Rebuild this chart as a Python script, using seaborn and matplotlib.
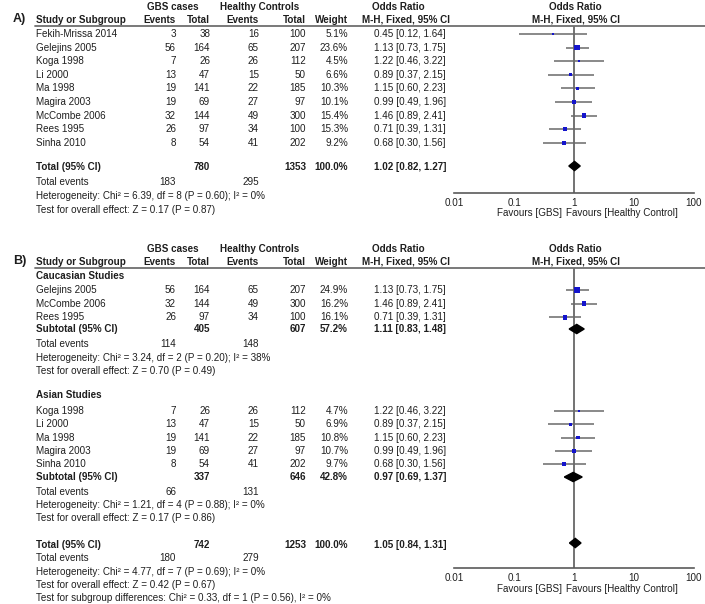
import numpy as np
import pandas as pd
import matplotlib
matplotlib.use('Agg')
import matplotlib.pyplot as plt
from matplotlib.lines import Line2D
import seaborn as sns

# ---- panel A data (all studies) ----
studies = ['Fekih-Mrissa 2014', 'Gelejins 2005', 'Koga 1998', 'Li 2000', 'Ma 1998',
           'Magira 2003', 'McCombe 2006', 'Rees 1995', 'Sinha 2010']
gbs_events = [3, 56, 7, 13, 19, 19, 32, 26, 8]
gbs_total = [38, 164, 26, 47, 141, 69, 144, 97, 54]
hc_events = [16, 65, 26, 15, 22, 27, 49, 34, 41]
hc_total = [100, 207, 112, 50, 185, 97, 300, 100, 202]
odds = [0.45, 1.13, 1.22, 0.89, 1.15, 0.99, 1.46, 0.71, 0.68]
ci_lo = [0.12, 0.73, 0.46, 0.37, 0.60, 0.49, 0.89, 0.39, 0.30]
ci_hi = [1.64, 1.75, 3.22, 2.15, 2.23, 1.96, 2.41, 1.31, 1.56]
weight_a = [5.1, 23.6, 4.5, 6.6, 10.3, 10.1, 15.4, 15.3, 9.2]

total_a = [780, 1353, 100.0]
total_or_a = [1.02, 0.82, 1.27]
events_a = [183, 295]
het_a = 'Heterogeneity: Chi\u00b2 = 6.39, df = 8 (P = 0.60); I\u00b2 = 0%'
z_a = 'Test for overall effect: Z = 0.17 (P = 0.87)'

# ---- panel B data (subgroups) ----
cau_studies = ['Gelejins 2005', 'McCombe 2006', 'Rees 1995']
cau_weight = [24.9, 16.2, 16.1]
cau_sub = [405, 607, 57.2]
cau_or = [1.11, 0.83, 1.48]
cau_events = [114, 148]
cau_het = 'Heterogeneity: Chi\u00b2 = 3.24, df = 2 (P = 0.20); I\u00b2 = 38%'
cau_z = 'Test for overall effect: Z = 0.70 (P = 0.49)'

asn_studies = ['Koga 1998', 'Li 2000', 'Ma 1998', 'Magira 2003', 'Sinha 2010']
asn_weight = [4.7, 6.9, 10.8, 10.7, 9.7]
asn_sub = [337, 646, 42.8]
asn_or = [0.97, 0.69, 1.37]
asn_events = [66, 131]
asn_het = 'Heterogeneity: Chi\u00b2 = 1.21, df = 4 (P = 0.88); I\u00b2 = 0%'
asn_z = 'Test for overall effect: Z = 0.17 (P = 0.86)'

total_b = [742, 1253, 100.0]
total_or_b = [1.05, 0.84, 1.31]
events_b = [180, 279]
het_b = 'Heterogeneity: Chi\u00b2 = 4.77, df = 7 (P = 0.69); I\u00b2 = 0%'
z_b = 'Test for overall effect: Z = 0.42 (P = 0.67)'
sub_b = 'Test for subgroup differences: Chi\u00b2 = 0.33, df = 1 (P = 0.56), I\u00b2 = 0%'

sns.set_style('white')
plt.rcParams['font.family'] = ['Liberation Sans', 'DejaVu Sans']

W, H = 705, 604
fig = plt.figure(figsize=(W / 100, H / 100), dpi=100)
TXT = '#1e1e1e'
FS = 7.1


def put(x, y, s, ha='left', bold=False, size=FS, color=TXT):
    fig.text(x / W, 1 - y / H, s, ha=ha, va='center', fontsize=size,
             fontweight='bold' if bold else 'normal', color=color)


def hline(x0, x1, y, color='#6e6e6e', lw=1.3):
    fig.add_artist(Line2D([x0 / W, x1 / W], [1 - y / H, 1 - y / H],
                          color=color, lw=lw, transform=fig.transFigure))


# column positions (px)
C_NAME, C_GE, C_GT, C_HE, C_HT, C_W, C_OR = 36, 176, 210, 259, 306, 348, 446


def header(y, label):
    put(173, y - 13, 'GBS cases', ha='center', bold=True)
    put(260, y - 13, 'Healthy Controls', ha='center', bold=True)
    put(398, y - 13, 'Odds Ratio', ha='center', bold=True)
    put(575, y - 13, 'Odds Ratio', ha='center', bold=True)
    put(13, y - 1, label, bold=True, size=9)
    put(C_NAME, y, 'Study or Subgroup', bold=True)
    put(C_GE, y, 'Events', ha='right', bold=True)
    put(C_GT, y, 'Total', ha='right', bold=True)
    put(C_HE, y, 'Events', ha='right', bold=True)
    put(C_HT, y, 'Total', ha='right', bold=True)
    put(C_W, y, 'Weight', ha='right', bold=True)
    put(406, y, 'M-H, Fixed, 95% CI', ha='center', bold=True)
    put(576, y, 'M-H, Fixed, 95% CI', ha='center', bold=True)
    hline(35, 705, y + 6)


def study_row(y, name, w):
    i = studies.index(name)
    put(C_NAME, y, name)
    put(C_GE, y, str(gbs_events[i]), ha='right')
    put(C_GT, y, str(gbs_total[i]), ha='right')
    put(C_HE, y, str(hc_events[i]), ha='right')
    put(C_HT, y, str(hc_total[i]), ha='right')
    put(C_W, y, f'{w:.1f}%', ha='right')
    put(C_OR, y, f'{odds[i]:.2f} [{ci_lo[i]:.2f}, {ci_hi[i]:.2f}]', ha='right')


def total_row(y, label, tot, orv):
    put(C_NAME, y, label, bold=True)
    put(C_GT, y, str(tot[0]), ha='right', bold=True)
    put(C_HT, y, str(tot[1]), ha='right', bold=True)
    put(C_W, y, f'{tot[2]:.1f}%', ha='right', bold=True)
    put(C_OR, y, f'{orv[0]:.2f} [{orv[1]:.2f}, {orv[2]:.2f}]', ha='right', bold=True)


def events_row(y, ev):
    put(C_NAME, y, 'Total events')
    put(C_GE, y, str(ev[0]), ha='right')
    put(C_HE, y, str(ev[1]), ha='right')


def forest_axes(top, bottom):
    ax = fig.add_axes([454 / W, 1 - bottom / H, 240 / W, (bottom - top) / H])
    ax.set_xscale('log')
    ax.set_xlim(0.01, 100)
    ax.set_ylim(bottom, top)
    ax.patch.set_alpha(0)
    for s in ['left', 'right', 'top']:
        ax.spines[s].set_visible(False)
    ax.spines['bottom'].set_color('#5a5a5a')
    ax.spines['bottom'].set_linewidth(1.2)
    ax.set_yticks([])
    ax.set_xticks([0.01, 0.1, 1, 10, 100])
    ax.set_xticklabels(['0.01', '0.1', '1', '10', '100'])
    ax.minorticks_off()
    ax.tick_params(axis='x', direction='inout', length=5.5, width=1.1, color='#5a5a5a',
                   labelsize=FS, labelcolor=TXT, pad=0.6)
    ax.axvline(1, color='#5a5a5a', lw=1.2, zorder=1)
    return ax


def draw_studies(ax, ys, names, ws):
    idx = [studies.index(n) for n in names]
    df = pd.DataFrame({'y': ys, 'or': [odds[i] for i in idx],
                       'lo': [ci_lo[i] for i in idx], 'hi': [ci_hi[i] for i in idx],
                       'w': ws})
    ax.hlines(df['y'], df['lo'], df['hi'], color='#6a6a6a', lw=1.1, zorder=2)
    side = 1.15 * np.sqrt(df['w']) * 0.72
    sns.scatterplot(data=df, x='or', y='y', marker='s', s=side ** 2, color='#1414cc',
                    linewidth=0, legend=False, ax=ax, zorder=3)
    ax.set_xlabel('')
    ax.set_ylabel('')


def diamond(ax, y, orv, h=4.6):
    ax.fill([orv[1], orv[0], orv[2], orv[0]], [y, y - h, y, y + h], color='black', zorder=4)


# ================= Panel A =================
header(20, 'A)')
ys_a = [34 + 13.6 * i for i in range(len(studies))]
for y, n, w in zip(ys_a, studies, weight_a):
    study_row(y, n, w)
total_row(167, 'Total (95% CI)', total_a, total_or_a)
events_row(182, events_a)
put(C_NAME, 196, het_a)
put(C_NAME, 210, z_a)

ax_a = forest_axes(26, 193)
draw_studies(ax_a, ys_a, studies, weight_a)
diamond(ax_a, 166, total_or_a)
put(562, 213.5, 'Favours [GBS]', ha='right')
put(566, 213.5, 'Favours [Healthy Control]')

# ================= Panel B =================
header(262, 'B)')
put(C_NAME, 276, 'Caucasian Studies', bold=True)
ys_c = [290 + 13.6 * i for i in range(len(cau_studies))]
for y, n, w in zip(ys_c, cau_studies, cau_weight):
    study_row(y, n, w)
total_row(329, 'Subtotal (95% CI)', cau_sub, cau_or)
events_row(344, cau_events)
put(C_NAME, 358, cau_het)
put(C_NAME, 371, cau_z)

put(C_NAME, 395, 'Asian Studies', bold=True)
ys_s = [411 + 13.3 * i for i in range(len(asn_studies))]
for y, n, w in zip(ys_s, asn_studies, asn_weight):
    study_row(y, n, w)
total_row(477, 'Subtotal (95% CI)', asn_sub, asn_or)
events_row(492, asn_events)
put(C_NAME, 505, asn_het)
put(C_NAME, 518, asn_z)

total_row(545, 'Total (95% CI)', total_b, total_or_b)
events_row(558, events_b)
put(C_NAME, 572, het_b)
put(C_NAME, 585, z_b)
put(C_NAME, 598, sub_b)

ax_b = forest_axes(268, 568)
draw_studies(ax_b, ys_c, cau_studies, cau_weight)
draw_studies(ax_b, ys_s, asn_studies, asn_weight)
diamond(ax_b, 329, cau_or)
diamond(ax_b, 477, asn_or)
diamond(ax_b, 543, total_or_b)
put(562, 589.5, 'Favours [GBS]', ha='right')
put(566, 589.5, 'Favours [Healthy Control]')

fig.savefig('out.png', dpi=100, facecolor='white')
